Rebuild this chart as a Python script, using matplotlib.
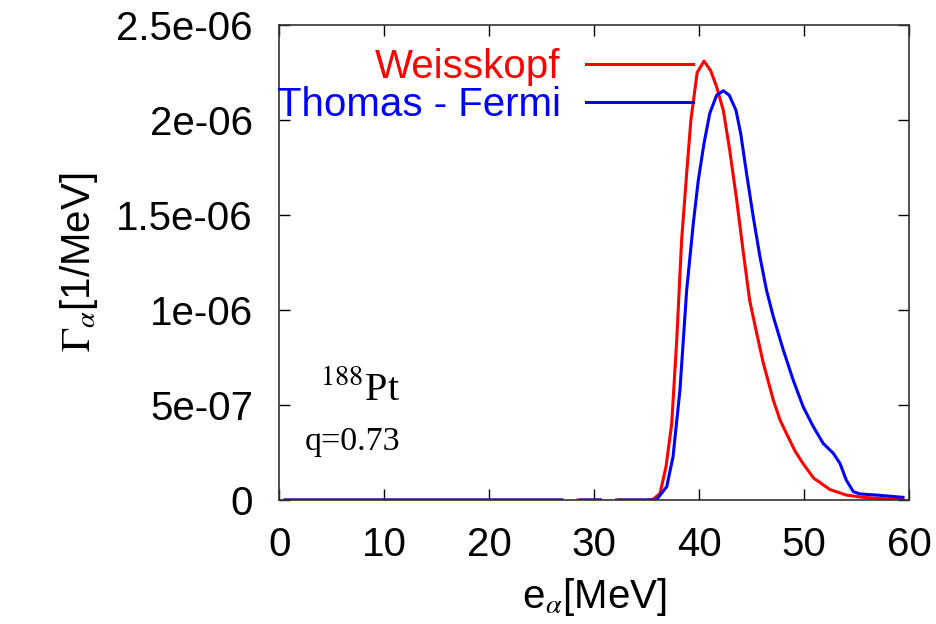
import numpy as np
import matplotlib
matplotlib.use("Agg")
import matplotlib.pyplot as plt

nan = np.nan
# Weisskopf series (energy in MeV, width in 1e-6 1/MeV)
w_x = [0.55, 26.9, 27.7, 28.45, 30.6, 31.4, 32.1, 35.0, 35.6, 36.26, 36.83, 37.37, 37.85,
       38.32, 38.8, 39.2, 39.8, 40.45, 41.08, 41.65, 42.29, 42.9, 43.56, 44.2, 44.8, 45.47,
       46.1, 47.05, 47.7, 48.3, 49.1, 49.9, 50.9, 52.45, 54.0, 55.6, 57.5, 59.4]
w_y = [0, 0, nan, 0, 0, nan, 0, 0, 0.003, 0.035, 0.175, 0.40, 0.84,
       1.37, 1.72, 2.0, 2.25, 2.31, 2.26, 2.175, 2.05, 1.84, 1.58, 1.30, 1.05, 0.877,
       0.72, 0.526, 0.42, 0.35, 0.26, 0.19, 0.115, 0.055, 0.026, 0.014, 0.007, 0.0035]
# Thomas - Fermi series
t_x = [0.55, 26.9, 27.7, 28.67, 30.6, 31.4, 32.3, 35.0, 35.9, 36.9, 37.5, 38.16, 38.8,
       39.43, 39.9, 40.45, 41.0, 41.65, 42.29, 42.86, 43.5, 43.94, 44.5, 45.14, 45.78, 46.4,
       47.05, 48.0, 48.95, 49.9, 50.86, 51.8, 52.76, 53.4, 54.0, 54.67, 55.3, 56.9, 59.4]
t_y = [0, 0, nan, 0, 0, nan, 0, 0, 0, 0.07, 0.228, 0.58, 1.105,
       1.456, 1.68, 1.877, 2.035, 2.13, 2.154, 2.13, 2.05, 1.93, 1.72, 1.49, 1.28, 1.105,
       0.965, 0.79, 0.63, 0.49, 0.386, 0.298, 0.246, 0.193, 0.105, 0.044, 0.032, 0.026, 0.014]

x_ticks = [0, 10, 20, 30, 40, 50, 60]
y_ticks = [0, 5e-7, 1e-6, 1.5e-6, 2e-6, 2.5e-6]
y_tick_labels = ["0", "5e-07", "1e-06", "1.5e-06", "2e-06", "2.5e-06"]
scale = 1e-6

fig = plt.figure(figsize=(9.37, 6.24), dpi=100)
ax = fig.add_axes([0.2981, 0.1987, 0.6723, 0.7613])

sans = "Liberation Sans"
serif = "Liberation Serif"
fs = 29

ax.plot(w_x, np.array(w_y) * scale, color="#ff0000", lw=2.2, label="Weisskopf")
ax.plot(t_x, np.array(t_y) * scale, color="#0000ff", lw=2.2, label="Thomas - Fermi")

ax.set_xlim(0, 60)
ax.set_ylim(0, 2.5e-6)
ax.set_xticks(x_ticks)
ax.set_xticklabels([str(v) for v in x_ticks], fontfamily=sans, fontsize=fs)
ax.set_yticks(y_ticks)
ax.set_yticklabels(y_tick_labels, fontfamily=sans, fontsize=fs)
ax.tick_params(direction="in", length=8, width=1, top=True, right=True, pad=19)
for s in ax.spines.values():
    s.set_linewidth(1.2)
    s.set_color("#333333")

ax.set_xlabel(r"e$_{\alpha}$[MeV]", fontfamily=sans, fontsize=fs, math_fontfamily="stix", labelpad=8)
ax.set_ylabel(r"$\Gamma_{\alpha}$[1/MeV]", fontfamily=sans, fontsize=fs, math_fontfamily="stix", labelpad=12)

ax.text(3.9, 0.526e-6, r"$^{188}$Pt", fontfamily=serif, fontsize=29, math_fontfamily="stix",
        ha="left", va="baseline")
ax.text(2.45, 0.263e-6, "q=0.73", fontfamily=serif, fontsize=24.5, ha="left", va="baseline")

leg = ax.legend(loc="upper right", bbox_to_anchor=(693.3 / 937, 1 - 48 / 624),
                bbox_transform=fig.transFigure, frameon=False, markerfirst=False,
                handlelength=2.67, handletextpad=0.62, labelspacing=0.0,
                borderpad=0, borderaxespad=0, prop={"family": sans, "size": fs})
for txt, ln in zip(leg.get_texts(), leg.get_lines()):
    txt.set_color(ln.get_color())

fig.savefig("out.png", dpi=100)
